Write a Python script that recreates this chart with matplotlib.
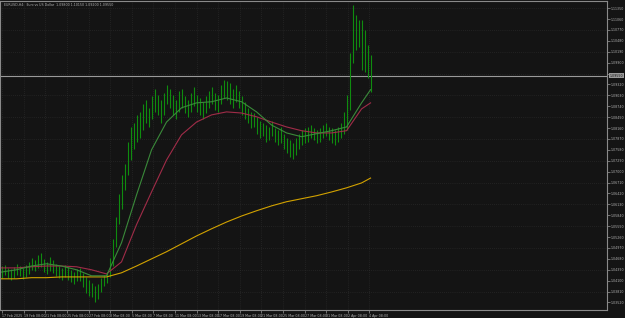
import matplotlib
matplotlib.use("Agg")
import matplotlib.pyplot as plt
import numpy as np

# H4 bars (high / low per bar)
highs = [1.0448, 1.0452, 1.0445, 1.0440, 1.0446, 1.0455, 1.0450, 1.0443, 1.0452, 1.0460,
         1.0470, 1.0465, 1.0478, 1.0483, 1.0468, 1.0460, 1.0474, 1.0466, 1.0455, 1.0449,
         1.0444, 1.0452, 1.0446, 1.0438, 1.0434, 1.0440, 1.0444, 1.0430, 1.0421, 1.0412,
         1.0405, 1.0396, 1.0402, 1.0416, 1.0426, 1.0432,
         1.0470, 1.0520, 1.0580, 1.0640, 1.0690, 1.0720, 1.0780, 1.0820, 1.0830, 1.0850,
         1.0860, 1.0880, 1.0890, 1.0870, 1.0900, 1.0920, 1.0905, 1.0890, 1.0910, 1.0930, 1.0920,
         1.0905, 1.0890, 1.0915, 1.0920, 1.0900, 1.0890, 1.0910, 1.0925, 1.0905, 1.0895,
         1.0885, 1.0900, 1.0915, 1.0925, 1.0910, 1.0905, 1.0930, 1.0945, 1.0940, 1.0935,
         1.0920, 1.0930, 1.0915, 1.0900,
         1.0885, 1.0870, 1.0860, 1.0855, 1.0845, 1.0835, 1.0830, 1.0825,
         1.0820, 1.0835, 1.0815, 1.0810, 1.0820, 1.0800, 1.0790, 1.0785, 1.0775, 1.0790,
         1.0800, 1.0810, 1.0815,
         1.0820, 1.0825, 1.0815, 1.0810, 1.0815, 1.0825, 1.0830, 1.0820, 1.0815, 1.0810,
         1.0820, 1.0830, 1.0860,
         1.0904, 1.1016, 1.1144, 1.1117, 1.1104, 1.1104, 1.1077, 1.1037, 1.1011]
lows = [1.0418, 1.0424, 1.0416, 1.0412, 1.0418, 1.0425, 1.0422, 1.0415, 1.0420, 1.0428,
        1.0438, 1.0436, 1.0444, 1.0446, 1.0432, 1.0428, 1.0436, 1.0430, 1.0422, 1.0416,
        1.0412, 1.0420, 1.0412, 1.0406, 1.0402, 1.0408, 1.0410, 1.0392, 1.0378, 1.0370,
        1.0366, 1.0352, 1.0360, 1.0380, 1.0396, 1.0404,
        1.0420, 1.0450, 1.0500, 1.0560, 1.0600, 1.0650, 1.0690, 1.0730, 1.0760, 1.0780,
        1.0790, 1.0810, 1.0830, 1.0820, 1.0840, 1.0860, 1.0850, 1.0830, 1.0850, 1.0880, 1.0870,
        1.0850, 1.0840, 1.0860, 1.0870, 1.0855, 1.0845, 1.0860, 1.0875, 1.0860, 1.0850,
        1.0840, 1.0855, 1.0870, 1.0880, 1.0865, 1.0860, 1.0880, 1.0895, 1.0890, 1.0880,
        1.0870, 1.0885, 1.0870, 1.0850,
        1.0840, 1.0830, 1.0815, 1.0820, 1.0800, 1.0790, 1.0795, 1.0780,
        1.0785, 1.0795, 1.0780, 1.0770, 1.0775, 1.0760, 1.0750, 1.0740, 1.0735, 1.0745,
        1.0760, 1.0770, 1.0775,
        1.0780, 1.0790, 1.0785, 1.0775, 1.0780, 1.0790, 1.0795, 1.0785, 1.0775, 1.0770,
        1.0780, 1.0790, 1.0800,
        1.0811, 1.0864, 1.0989, 1.1024, 1.1032, 1.0971, 1.0965, 1.0950, 1.0912]
last_close = 1.0955

# moving averages sampled every few bars
ma_index = [0, 5, 10, 15, 20, 25, 30, 35, 40, 45, 50, 55, 60, 65, 70, 75, 80, 85, 90,
            95, 100, 105, 110, 115, 120, 123]
ma_fast = [1.0433, 1.0439, 1.0449, 1.0455, 1.0449, 1.0439, 1.0423, 1.0423, 1.0511, 1.0638,
           1.0758, 1.0832, 1.0870, 1.0883, 1.0886, 1.0896, 1.0886, 1.0859, 1.0824, 1.0803,
           1.0793, 1.0801, 1.0809, 1.0819, 1.0883, 1.0918]
ma_mid = [1.0444, 1.0444, 1.0447, 1.0449, 1.0449, 1.0447, 1.0439, 1.0428, 1.0460, 1.0559,
          1.0646, 1.0731, 1.0798, 1.0832, 1.0851, 1.0859, 1.0856, 1.0846, 1.0832, 1.0819,
          1.0809, 1.0803, 1.0803, 1.0809, 1.0867, 1.0883]
ma_slow = [1.0415, 1.0415, 1.0418, 1.0418, 1.0420, 1.0420, 1.0420, 1.0420, 1.0431, 1.0449,
           1.0468, 1.0487, 1.0508, 1.0529, 1.0548, 1.0566, 1.0582, 1.0596, 1.0609, 1.0620,
           1.0628, 1.0636, 1.0646, 1.0657, 1.0670, 1.0683]

y_ticks = [1.1135, 1.1106, 1.1077, 1.1048, 1.1019, 1.0990, 1.0961, 1.0932, 1.0903, 1.0874,
           1.0845, 1.0816, 1.0787, 1.0758, 1.0729, 1.0700, 1.0671, 1.0642, 1.0613, 1.0584,
           1.0555, 1.0526, 1.0497, 1.0468, 1.0439, 1.0410, 1.0381, 1.0352]
x_labels = ["17 Feb 2025", "19 Feb 08:00", "21 Feb 08:00", "25 Feb 08:00", "27 Feb 08:00",
            "3 Mar 08:00", "5 Mar 08:00", "7 Mar 08:00", "11 Mar 08:00", "13 Mar 08:00",
            "17 Mar 08:00", "19 Mar 08:00", "21 Mar 08:00", "25 Mar 08:00", "27 Mar 08:00",
            "31 Mar 08:00", "2 Apr 08:00", "4 Apr 08:00"]
x_label_pos = [0.2 + 7.2 * k for k in range(len(x_labels))]

bg = "#141414"
fs = 2.3
fig = plt.figure(figsize=(6.25, 3.18), dpi=100, facecolor=bg)
ax = fig.add_axes([0.0, 8 / 318, 607 / 625, 309 / 318], facecolor=bg)

x = np.arange(len(highs))
ax.vlines(x, lows, highs, color="#0f8c0f", linewidth=0.8, zorder=3)

ax.plot(ma_index, ma_slow, color="#d2a200", linewidth=0.8, zorder=4)
ax.plot(ma_index, ma_mid, color="#a02c48", linewidth=0.8, zorder=4)
ax.plot(ma_index, ma_fast, color="#3a8a3a", linewidth=0.8, zorder=4)

ax.axhline(last_close, color="#9a9a9a", linewidth=0.8, zorder=2)

ax.set_xlim(-0.5, 201.8)
ax.set_ylim(1.0332, 1.1154)

# dotted grid
for t in x_label_pos:
    ax.axvline(t, color="#303030", linewidth=0.5, linestyle=(0, (1, 2)), zorder=1)
for t in y_ticks[::2]:
    ax.axhline(t, color="#303030", linewidth=0.5, linestyle=(0, (1, 2)), zorder=1)

ax.yaxis.tick_right()
ax.set_yticks(y_ticks)
ax.set_yticklabels(["" if abs(v - last_close) < 0.0012 else f"{v:.5f}" for v in y_ticks])
ax.set_xticks(x_label_pos)
ax.set_xticklabels(x_labels, ha="left")
ax.tick_params(axis="both", colors="#9a9a9a", labelcolor="#b0b0b0", labelsize=fs,
               length=2, width=0.5, pad=1)
for s in ax.spines.values():
    s.set_color("#8a8a8a")
    s.set_linewidth(0.8)

# current price box
ax.text(1.004, last_close, f"{last_close:.5f}", transform=ax.get_yaxis_transform(),
        fontsize=fs, color="#101010", va="center", ha="left", zorder=6,
        bbox=dict(boxstyle="square,pad=0.2", facecolor="#9a9a9a", edgecolor="none"))

fig.text(4 / 625, 1 - 5 / 318, "EURUSD,H4:  Euro vs US Dollar  1.09800 1.10150 1.09200 1.09550",
         fontsize=fs, color="#b0b0b0", va="center", ha="left")

fig.savefig("out.png", dpi=100, facecolor=bg)
